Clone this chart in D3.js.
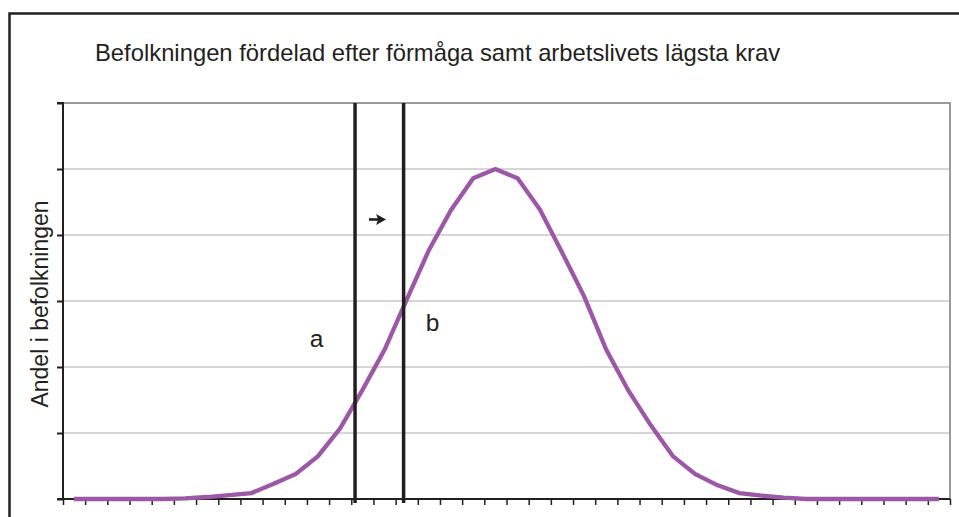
<!DOCTYPE html>
<html>
<head>
<meta charset="utf-8">
<script src="https://cdn.jsdelivr.net/npm/d3@7"></script>
<style>
  html, body { margin: 0; padding: 0; background: #fff; }
  svg { display: block; font-family: "Liberation Sans", Arial, sans-serif; }
</style>
</head>
<body>
<svg id="chart" width="959" height="517"></svg>
<script>
// ---- data ----
const title = "Befolkningen fördelad efter förmåga samt arbetslivets lägsta krav";
const yTitle = "Andel i befolkningen";
const categories = d3.range(1, 41);            // 40 ability classes (no labels shown)
const values = [0, 0, 0, 0, 0, 0.02, 0.06, 0.12, 0.18, 0.46,
                0.76, 1.3, 2.14, 3.3, 4.52, 6.04, 7.54, 8.76, 9.72, 10.0,
                9.72, 8.78, 7.48, 6.14, 4.52, 3.28, 2.24, 1.3, 0.76, 0.42,
                0.18, 0.1, 0.04, 0, 0, 0, 0, 0, 0, 0];
const yTicks = [0, 2, 4, 6, 8, 10, 12];
// marker lines (position on category axis, in category units)
const markers = [{ name: "a", pos: 13.17 }, { name: "b", pos: 15.36 }];
const labels = [{ text: "a", pos: 11.44, val: 4.61 }, { text: "b", pos: 16.67, val: 5.1 }];
const arrow = { from: 13.8, to: 14.57, val: 8.47 };

// ---- layout ----
const svg = d3.select("#chart");
const L = 63, R = 950, T = 103, B = 499;

const x = d3.scaleBand().domain(categories).range([L, R]).padding(0);
const xPos = d3.scaleLinear().domain([0, categories.length]).range([L, R]);
const y = d3.scaleLinear().domain([0, 12]).range([B, T]);

// outer frame
svg.append("rect").attr("x", 9.5).attr("y", 13.5).attr("width", 960).attr("height", 520)
  .attr("fill", "none").attr("stroke", "#231f20").attr("stroke-width", 2.5);

// title
svg.append("text").attr("x", 95).attr("y", 61).attr("font-size", 23.8).attr("fill", "#231f20")
  .text(title);

// y title
svg.append("text").attr("transform", "translate(48,304) rotate(-90)")
  .attr("text-anchor", "middle").attr("font-size", 23).attr("fill", "#231f20").text(yTitle);

// gridlines
svg.append("g").selectAll("line").data(yTicks.filter(d => d > 0 && d < 12)).join("line")
  .attr("x1", L).attr("x2", R).attr("y1", d => y(d)).attr("y2", d => y(d))
  .attr("stroke", "#c8c8c8").attr("stroke-width", 1.5);

// plot area border (top & right)
svg.append("path")
  .attr("d", `M${L},${y(12)}H${R}V${B}`)
  .attr("fill", "none").attr("stroke", "#9a9a9a").attr("stroke-width", 2);

// y axis
const yAxis = d3.axisLeft(y).tickValues(yTicks).tickSize(6).tickFormat("");
const gy = svg.append("g").attr("transform", `translate(${L},0)`).call(yAxis);
gy.select(".domain").attr("stroke", "#231f20").attr("stroke-width", 2).attr("d", `M-6,${T}H0V${B}H-6`);
gy.selectAll(".tick line").attr("stroke", "#231f20").attr("stroke-width", 2);

// x axis (ticks at category boundaries)
const xAxis = d3.axisBottom(xPos).tickValues(d3.range(0, categories.length + 1)).tickSize(6).tickFormat("");
const gx = svg.append("g").attr("transform", `translate(0,${B})`).call(xAxis);
gx.select(".domain").attr("stroke", "#231f20").attr("stroke-width", 2).attr("d", `M${L},0H${R}`);
gx.selectAll(".tick line").attr("stroke", "#231f20").attr("stroke-width", 1.5);

// curve
const line = d3.line().x((d, i) => x(categories[i]) + x.bandwidth() / 2).y(d => y(d));
svg.append("path").datum(values).attr("d", line)
  .attr("fill", "none").attr("stroke", "#9d57a7").attr("stroke-width", 4.3)
  .attr("stroke-linejoin", "miter");

// marker lines
svg.append("g").selectAll("line").data(markers).join("line")
  .attr("x1", d => xPos(d.pos)).attr("x2", d => xPos(d.pos))
  .attr("y1", y(12)).attr("y2", B + 4)
  .attr("stroke", "#231f20").attr("stroke-width", 3.5);

// arrow
const ax1 = xPos(arrow.from), ax2 = xPos(arrow.to), ay = y(arrow.val);
svg.append("line").attr("x1", ax1).attr("x2", ax2 - 7).attr("y1", ay).attr("y2", ay)
  .attr("stroke", "#231f20").attr("stroke-width", 2.6);
svg.append("path").attr("d", `M${ax2},${ay}L${ax2 - 10},${ay - 5.5}L${ax2 - 8},${ay}L${ax2 - 10},${ay + 5.5}Z`)
  .attr("fill", "#231f20");

// labels a, b
svg.append("g").selectAll("text").data(labels).join("text")
  .attr("x", d => xPos(d.pos)).attr("y", d => y(d.val))
  .attr("text-anchor", "middle").attr("font-size", 24.5).attr("fill", "#231f20")
  .text(d => d.text);
</script>
</body>
</html>
